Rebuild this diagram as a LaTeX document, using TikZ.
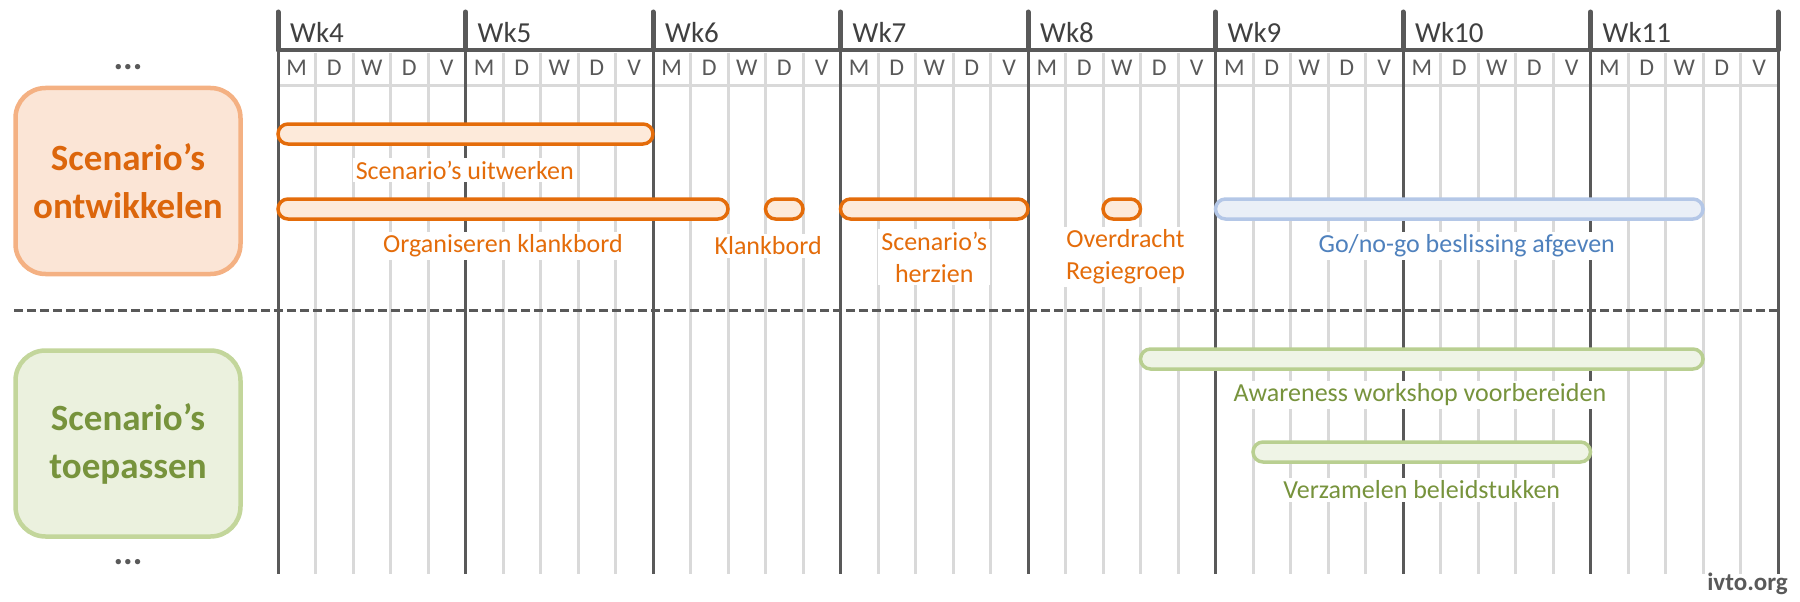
\documentclass[tikz,border=0pt]{standalone}
\usepackage{fontspec}
\setmainfont{Carlito}
\usepackage{tikz}

\definecolor{linegray}{HTML}{595959}
\definecolor{textgray}{HTML}{404040}
\definecolor{gridgray}{HTML}{D9D9D9}
\definecolor{orgline}{HTML}{E46C0A}
\definecolor{orgfill}{HTML}{FDEADA}
\definecolor{orgbox}{HTML}{FBE5D6}
\definecolor{orgedge}{HTML}{F4B183}
\definecolor{orgtext}{HTML}{DC660C}
\definecolor{bluline}{HTML}{B4C7E7}
\definecolor{blufill}{HTML}{EAEFF7}
\definecolor{blutext}{HTML}{4F81BD}
\definecolor{grnline}{HTML}{B9CF91}
\definecolor{grnfill}{HTML}{EFF4E6}
\definecolor{grnbox}{HTML}{EBF1DE}
\definecolor{grnedge}{HTML}{C3D69B}
\definecolor{grntext}{HTML}{77933C}

\begin{document}
\begin{tikzpicture}[x=1pt, y=-1pt,
    every node/.style={inner sep=0pt},
    weekline/.style={linegray, line width=3pt},
    dayline/.style={gridgray, line width=3pt},
    bar/.style={line width=3.5pt, rounded corners=10pt},
    lbl/.style={fill=white, inner sep=3pt, align=center, font=\fontsize{26}{32}\selectfont},
    more/.style={text=linegray, font=\fontsize{36}{36}\selectfont\bfseries},
    phase/.style={rounded corners=30pt, line width=4.5pt, minimum width=225pt,
      minimum height=186pt, align=center, font=\fontsize{37}{48}\selectfont\bfseries}]
  \useasboundingbox (0,0) rectangle (1800,602);

  % phases on the left
  \node[phase, draw=orgedge, fill=orgbox, text=orgtext] (dev) at (128,181) {Scenario’s\\ontwikkelen};
  \node[phase, draw=grnedge, fill=grnbox, text=grntext] (app) at (128,443.5) {Scenario’s\\toepassen};
  \node[more] (dotstop) at (128,67) {...};
  \node[more] (dotsbot) at (128,562) {...};

  % calendar, one unit = one day
  \begin{scope}[shift={(278,0)}, x=37.5pt]
    \foreach \d in {1,...,39}
      \draw[dayline] (\d,53) -- (\d,574);
    \draw[dayline] (0,86) -- (40,86);
    \foreach \w [count=\i from 0] in {4,...,11} {
      \draw[weekline, line width=5pt, line cap=round] (5*\i,12) -- (5*\i,50);
      \draw[weekline] (5*\i,50) -- (5*\i,574);
      \node[anchor=base west, text=textgray, font=\fontsize{29}{30}\selectfont] (wk\w) at (5*\i+0.32,43) {Wk\w};
      \foreach \l [count=\j from 0] in {M,D,W,D,V}
        \node[anchor=base, text=linegray, font=\fontsize{24}{24}\selectfont] (day\w\j) at (5*\i+\j+0.5,75) {\l};
    }
    \draw[weekline, line width=5pt, line cap=round] (40,12) -- (40,50);
    \draw[weekline] (40,50) -- (40,574);
    \draw[weekline, line width=3.5pt] (0,50) -- (40,50);

    % separator between the phases
    \draw[linegray, line width=3pt, dash pattern=on 9pt off 4pt] (-7.04,310) -- (40,310);

    % tasks
    \draw[bar, draw=orgline, fill=orgfill] (0,124) rectangle (10,144);
    \draw[bar, draw=orgline, fill=orgfill] (0,199) rectangle (12,219);
    \draw[bar, draw=orgline, fill=orgfill] (13,199) rectangle (14,219);
    \draw[bar, draw=orgline, fill=orgfill] (15,199) rectangle (20,219);
    \draw[bar, draw=orgline, fill=orgfill] (22,199) rectangle (23,219);
    \draw[bar, draw=bluline, fill=blufill] (25,199) rectangle (38,219);
    \draw[bar, draw=grnline, fill=grnfill] (23,349) rectangle (38,369);
    \draw[bar, draw=grnline, fill=grnfill] (26,442) rectangle (35,462);

    \node[lbl, text=orgline] (uitwerken) at (4.98,170) {Scenario’s uitwerken};
    \node[lbl, text=orgline] (klankorg) at (6,246) {Organiseren klankbord};
    \node[lbl, text=orgline] (klankbord) at (13.07,246) {Klankbord};
    \node[lbl, text=orgline] (herzien) at (17.5,257) {Scenario’s\\herzien};
    \node[lbl, text=orgline] (overdracht) at (22.6,257) {Overdracht\\Regiegroep};
    \node[lbl, text=blutext] (gonogo) at (31.7,246) {Go/no-go beslissing afgeven};
    \node[lbl, text=grntext] (awareness) at (30.45,395) {Awareness workshop voorbereiden};
    \node[lbl, text=grntext] (verzamelen) at (30.5,490) {Verzamelen beleidstukken};
  \end{scope}

  \node[anchor=base east, text=linegray, font=\fontsize{25}{25}\selectfont\bfseries] (site) at (1788,590) {ivto.org};
\end{tikzpicture}
\end{document}
